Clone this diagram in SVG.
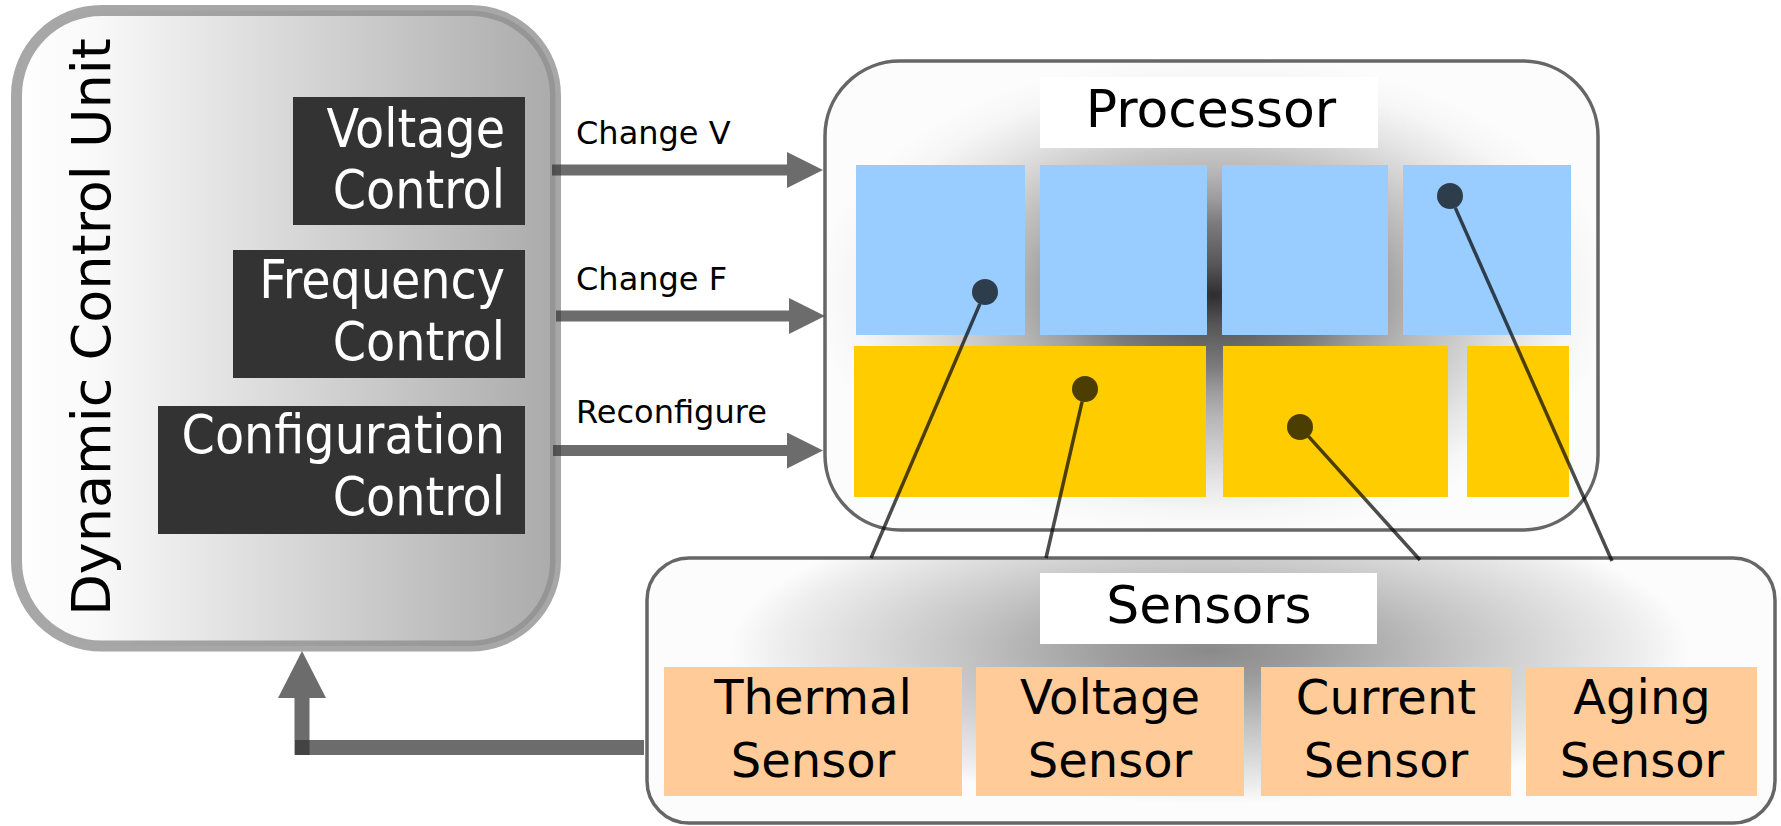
<svg xmlns="http://www.w3.org/2000/svg" width="1781" height="826" viewBox="0 0 1781 826">
  <style>
    .ctrl-box { fill: #333333; }
    .ctrl-text { font-family: "DejaVu Sans Condensed", "DejaVu Sans", sans-serif; font-stretch: condensed; font-size: 53px; fill: #ffffff; text-anchor: end; }
    .frame { stroke: #666666; stroke-width: 3.5; }
    .title-box { fill: #ffffff; }
    .title { font-family: "DejaVu Sans", sans-serif; font-size: 52px; fill: #000000; text-anchor: middle; }
    .core { fill: #99ccff; }
    .unit { fill: #ffcc00; }
    .sensor { fill: #ffcc99; }
    .sensor-text { font-family: "DejaVu Sans", sans-serif; font-size: 48px; fill: #000000; text-anchor: middle; }
    .flow { stroke: #333333; stroke-opacity: 0.72; fill: none; stroke-linecap: butt; }
    .flow-label { font-family: "DejaVu Sans", sans-serif; font-size: 32px; fill: #000000; }
    .probe { fill: #000000; fill-opacity: 0.7; }
    .wire { stroke: #000000; stroke-opacity: 0.7; stroke-width: 3.5; fill: none; }
  </style>
  <defs>
    <linearGradient id="dcuFill" gradientUnits="userSpaceOnUse" x1="11" y1="0" x2="560" y2="0">
      <stop offset="0" stop-color="#ffffff"/>
      <stop offset="0.15" stop-color="#f9f9f9"/>
      <stop offset="1" stop-color="#aaaaaa"/>
    </linearGradient>
    <radialGradient id="procGlow" gradientUnits="userSpaceOnUse" cx="1214" cy="295" r="400"
        gradientTransform="translate(1214 295) scale(1 0.6) translate(-1214 -295)">
      <stop offset="0" stop-color="#2e2e2e"/>
      <stop offset="0.12" stop-color="#555555"/>
      <stop offset="0.3" stop-color="#7c7c7c"/>
      <stop offset="0.4" stop-color="#9c9c9c"/>
      <stop offset="0.5" stop-color="#b4b4b4"/>
      <stop offset="0.77" stop-color="#e4e4e4"/>
      <stop offset="0.9" stop-color="#f6f6f6"/>
      <stop offset="1" stop-color="#fcfcfc"/>
    </radialGradient>
    <radialGradient id="sensGlow" gradientUnits="userSpaceOnUse" cx="1210" cy="650" r="480"
        gradientTransform="translate(1210 650) scale(1 0.32) translate(-1210 -650)">
      <stop offset="0" stop-color="#8a8a8a"/>
      <stop offset="0.2" stop-color="#9c9c9c"/>
      <stop offset="0.5" stop-color="#c2c2c2"/>
      <stop offset="0.7" stop-color="#d8d8d8"/>
      <stop offset="0.9" stop-color="#eeeeee"/>
      <stop offset="1" stop-color="#fcfcfc"/>
    </radialGradient>
    <marker id="head" markerUnits="userSpaceOnUse" viewBox="0 -18 36 36" markerWidth="36" markerHeight="36" refX="0" refY="0" orient="auto">
      <path d="M0,-18 L36,0 L0,18 Z" fill="#333333" fill-opacity="0.72"/>
    </marker>
    <marker id="headBig" markerUnits="userSpaceOnUse" viewBox="0 -24 47 48" markerWidth="47" markerHeight="48" refX="0" refY="0" orient="auto">
      <path d="M0,-24 L47,0 L0,24 Z" fill="#333333" fill-opacity="0.72"/>
    </marker>
  </defs>

  <rect width="1781" height="826" fill="#ffffff"/>

  <!-- control unit with its three controllers -->
  <g id="dynamic-control-unit">
    <rect x="16.5" y="10.5" width="539" height="635.5" rx="85" ry="85" fill="url(#dcuFill)" stroke="#8e8e8e" stroke-opacity="0.78" stroke-width="11"/>
    <text transform="translate(110 327) rotate(-90)" font-family="DejaVu Sans, sans-serif" font-size="54" fill="#000000" text-anchor="middle">Dynamic Control Unit</text>
  </g>
  <g id="voltage-control">
    <rect class="ctrl-box" x="293" y="97" width="232" height="128"/>
    <text class="ctrl-text" x="505" y="147">Voltage</text>
    <text class="ctrl-text" x="505" y="208">Control</text>
  </g>
  <g id="frequency-control">
    <rect class="ctrl-box" x="233" y="250" width="292" height="128"/>
    <text class="ctrl-text" x="505" y="298">Frequency</text>
    <text class="ctrl-text" x="505" y="360">Control</text>
  </g>
  <g id="configuration-control">
    <rect class="ctrl-box" x="158" y="406" width="367" height="128"/>
    <text class="ctrl-text" x="505" y="453">Configuration</text>
    <text class="ctrl-text" x="505" y="515">Control</text>
  </g>

  <!-- processor: core row and functional-unit row -->
  <g id="processor">
    <rect class="frame" x="825" y="61" width="773" height="469" rx="75" ry="75" fill="url(#procGlow)"/>
    <rect class="title-box" x="1040" y="77" width="338" height="71"/>
    <text class="title" x="1211" y="127">Processor</text>
    <rect class="core" x="856" y="165" width="169" height="170"/>
    <rect class="core" x="1040" y="165" width="167" height="170"/>
    <rect class="core" x="1222" y="165" width="166" height="170"/>
    <rect class="core" x="1403" y="165" width="168" height="170"/>
    <rect class="unit" x="854" y="346" width="352" height="151"/>
    <rect class="unit" x="1223" y="346" width="225" height="151"/>
    <rect class="unit" x="1467" y="346" width="102" height="151"/>
  </g>

  <!-- sensor bank -->
  <g id="sensors">
    <rect class="frame" x="647" y="558" width="1128" height="265" rx="42" ry="42" fill="url(#sensGlow)"/>
    <rect class="title-box" x="1040" y="573" width="337" height="71"/>
    <text class="title" x="1209" y="623">Sensors</text>
  </g>
  <g id="thermal-sensor">
    <rect class="sensor" x="664" y="667" width="298" height="129"/>
    <text class="sensor-text" x="813" y="714">Thermal</text>
    <text class="sensor-text" x="813" y="777">Sensor</text>
  </g>
  <g id="voltage-sensor">
    <rect class="sensor" x="976" y="667" width="268" height="129"/>
    <text class="sensor-text" x="1110" y="714">Voltage</text>
    <text class="sensor-text" x="1110" y="777">Sensor</text>
  </g>
  <g id="current-sensor">
    <rect class="sensor" x="1261" y="667" width="250" height="129"/>
    <text class="sensor-text" x="1386" y="714">Current</text>
    <text class="sensor-text" x="1386" y="777">Sensor</text>
  </g>
  <g id="aging-sensor">
    <rect class="sensor" x="1526" y="667" width="231" height="129"/>
    <text class="sensor-text" x="1642" y="714">Aging</text>
    <text class="sensor-text" x="1642" y="777">Sensor</text>
  </g>

  <!-- control flows, feedback path and sensor probes -->
  <g id="connectors">
    <line class="flow" x1="552" y1="170" x2="787" y2="170" stroke-width="11" marker-end="url(#head)"/>
    <text class="flow-label" x="576" y="144">Change V</text>
    <line class="flow" x1="556" y1="316" x2="789" y2="316" stroke-width="11" marker-end="url(#head)"/>
    <text class="flow-label" x="576" y="290">Change F</text>
    <line class="flow" x1="553" y1="450.5" x2="787" y2="450.5" stroke-width="11" marker-end="url(#head)"/>
    <text class="flow-label" x="576" y="423">Reconfigure</text>

    <line class="flow" x1="644" y1="747.5" x2="295" y2="747.5" stroke-width="15"/>
    <line class="flow" x1="302" y1="755" x2="302" y2="698" stroke-width="15" marker-end="url(#headBig)"/>

    <circle class="probe" cx="985" cy="292" r="13"/>
    <line class="wire" x1="979.9" y1="303.9" x2="871" y2="558"/>
    <circle class="probe" cx="1085" cy="389" r="13"/>
    <line class="wire" x1="1082.1" y1="401.7" x2="1046" y2="558"/>
    <circle class="probe" cx="1300" cy="427" r="13"/>
    <line class="wire" x1="1308.7" y1="436.7" x2="1420" y2="560"/>
    <circle class="probe" cx="1450" cy="196" r="13"/>
    <line class="wire" x1="1455.3" y1="207.9" x2="1612" y2="561"/>
  </g>
</svg>
